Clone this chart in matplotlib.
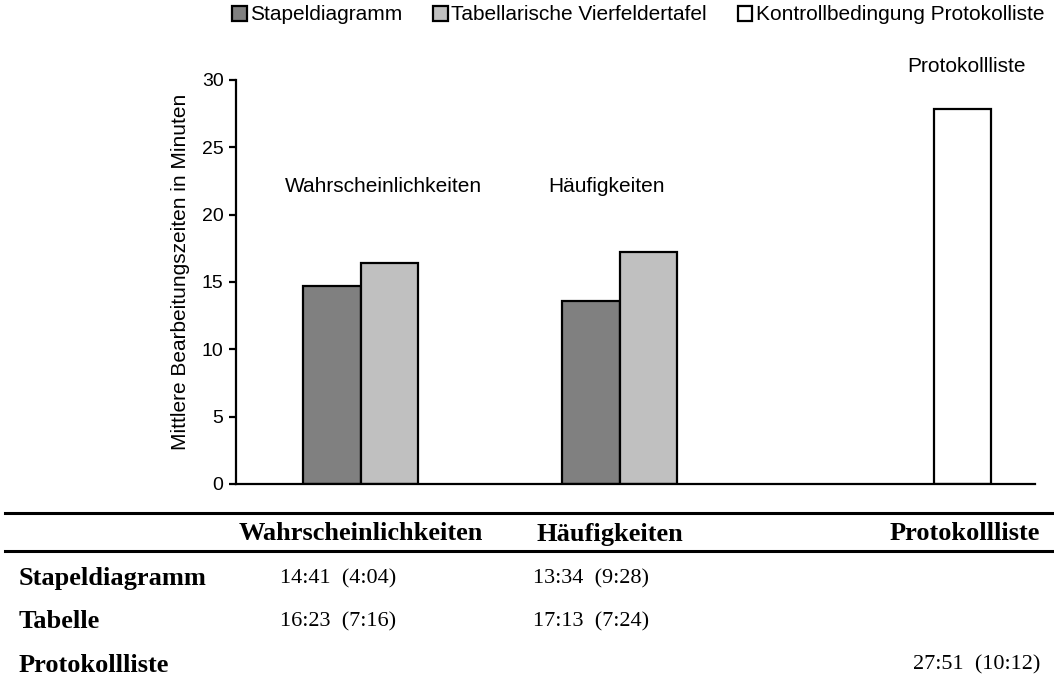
import matplotlib.pyplot as plt
from matplotlib.patches import Patch
from matplotlib.lines import Line2D

# Mittlere Bearbeitungszeiten (mm:ss) und Standardabweichungen
bedingungen = ["Wahrscheinlichkeiten", "Häufigkeiten", "Protokollliste"]
stapel_zeiten = ["14:41", "13:34", None]
stapel_sd = ["4:04", "9:28", None]
tabelle_zeiten = ["16:23", "17:13", None]
tabelle_sd = ["7:16", "7:24", None]
protokoll_zeiten = [None, None, "27:51"]
protokoll_sd = [None, None, "10:12"]

legenden_namen = ["Stapeldiagramm", "Tabellarische Vierfeldertafel", "Kontrollbedingung Protokolliste"]
zeilen_namen = ["Stapeldiagramm", "Tabelle", "Protokollliste"]


def minuten(t):
    m, s = t.split(":")
    return int(m) + int(s) / 60.0


W, H = 1054, 684
fig = plt.figure(figsize=(W / 100, H / 100), dpi=100)
plt.rcParams["font.family"] = ["Liberation Sans", "DejaVu Sans"]

ax = fig.add_axes([236 / W, 1 - 484 / H, 799 / W, 404 / H])

# Gruppenmitten in Balkenbreiten
mitten = [2.17, 6.68, 12.64]
breite = 1.0
farben = ["#808080", "#c0c0c0", "#ffffff"]

for i, m in enumerate(mitten):
    if stapel_zeiten[i] and tabelle_zeiten[i]:
        ax.bar(m - breite / 2, minuten(stapel_zeiten[i]), breite, color=farben[0],
               edgecolor="black", linewidth=1.6)
        ax.bar(m + breite / 2, minuten(tabelle_zeiten[i]), breite, color=farben[1],
               edgecolor="black", linewidth=1.6)
    if protokoll_zeiten[i]:
        ax.bar(m, minuten(protokoll_zeiten[i]), breite, color=farben[2],
               edgecolor="black", linewidth=1.6)

ax.set_xlim(0, 13.9)
ax.set_ylim(0, 30)
ax.set_yticks(range(0, 31, 5))
ax.set_xticks([])
for s in ["top", "right"]:
    ax.spines[s].set_visible(False)
ax.spines["left"].set_linewidth(1.6)
ax.spines["bottom"].set_linewidth(1.6)
ax.tick_params(axis="y", direction="out", length=5, width=1.6, labelsize=14, pad=4)
ax.set_ylabel("Mittlere Bearbeitungszeiten in Minuten", fontsize=15)
ax.yaxis.set_label_coords(-0.058, 0.525)

# Beschriftungen der Bedingungen im Diagramm
ax.text(2.56, 22.1, bedingungen[0], fontsize=15, ha="center", va="center")
ax.text(6.45, 22.1, bedingungen[1], fontsize=15, ha="center", va="center")
ax.text(12.7, 31.0, bedingungen[2], fontsize=15, ha="center", va="center", clip_on=False)

handles = [Patch(facecolor=c, edgecolor="black", linewidth=1.6) for c in farben]
fig.legend(handles, legenden_namen, loc="center", bbox_to_anchor=(638 / W, 1 - 15 / H),
           ncol=3, frameon=False, fontsize=15, handlelength=0.7, handleheight=0.7,
           handletextpad=0.15, columnspacing=1.5, borderaxespad=0)


# Tabelle unter dem Diagramm
def fx(px):
    return px / W


def fy(py):
    return 1 - py / H


fig.add_artist(Line2D([fx(5), fx(1054)], [fy(513), fy(513)], color="black", linewidth=2.2))
fig.add_artist(Line2D([fx(5), fx(1054)], [fy(551), fy(551)], color="black", linewidth=2.2))

serif = ["Liberation Serif", "DejaVu Serif"]
kopf_x = [361, 610]
for name, x in zip(bedingungen[:2], kopf_x):
    fig.text(fx(x), fy(534), name, family=serif, fontsize=19, fontweight="bold",
             ha="center", va="center")
fig.text(fx(1040), fy(534), bedingungen[2], family=serif, fontsize=19, fontweight="bold",
         ha="right", va="center")

zeilen_y = [579, 622, 665]
werte = [(stapel_zeiten, stapel_sd), (tabelle_zeiten, tabelle_sd), (protokoll_zeiten, protokoll_sd)]
spalten_x = [338, 591, None]
for name, y, (zeiten, sds) in zip(zeilen_namen, zeilen_y, werte):
    fig.text(fx(19), fy(y), name, family=serif, fontsize=19, fontweight="bold",
             ha="left", va="center")
    for j, (t, sd) in enumerate(zip(zeiten, sds)):
        if t is None:
            continue
        txt = f"{t}  ({sd})"
        if spalten_x[j] is None:
            fig.text(fx(1040), fy(y), txt, family=serif, fontsize=16, ha="right", va="center")
        else:
            fig.text(fx(spalten_x[j]), fy(y), txt, family=serif, fontsize=16,
                     ha="center", va="center")

fig.savefig("out.png", dpi=100)
